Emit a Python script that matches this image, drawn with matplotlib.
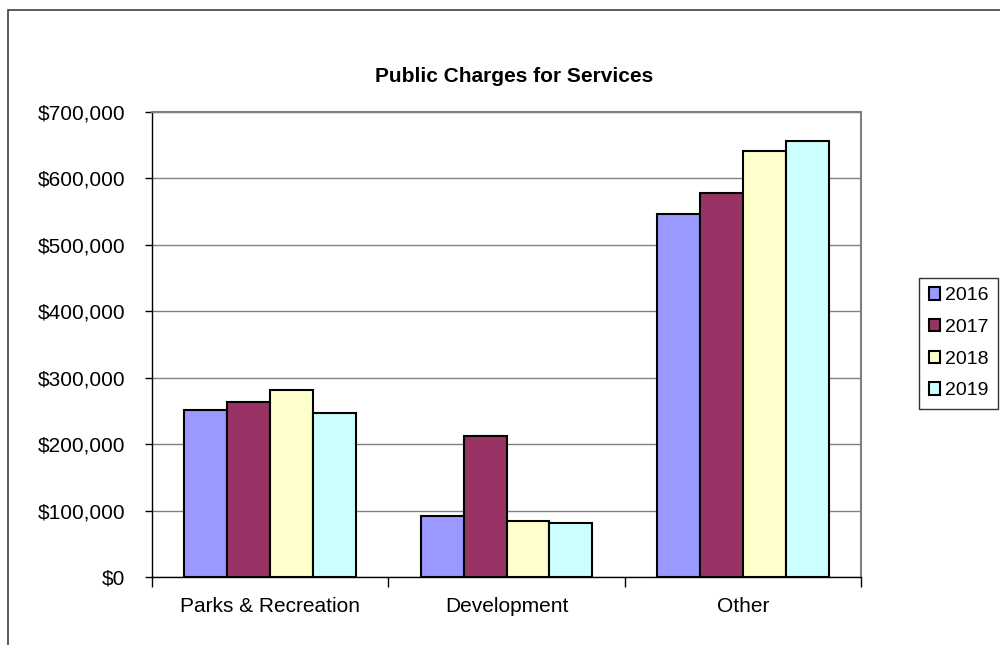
import matplotlib
matplotlib.use("Agg")
import matplotlib.pyplot as plt
import numpy as np
from matplotlib.patches import Rectangle
from matplotlib.ticker import FuncFormatter, MultipleLocator

plt.rcParams['font.family'] = ['Liberation Sans', 'DejaVu Sans']

categories = ["Parks & Recreation", "Development", "Other"]
years = ["2016", "2017", "2018", "2019"]
values = {
    "2016": [251000, 92000, 547000],
    "2017": [263500, 213000, 578000],
    "2018": [282500, 84000, 641500],
    "2019": [247500, 81000, 656500],
}
colors = ["#9999FF", "#993366", "#FFFFCC", "#CCFFFF"]

fig = plt.figure(figsize=(10, 6.45), dpi=100)
fig.patch.set_facecolor("white")

# outer chart border (runs off the right and bottom edges)
fig.add_artist(Rectangle((8 / 1000, -0.05), 1.2, 1 - 9.7 / 645 + 0.05,
                         transform=fig.transFigure, fill=False,
                         edgecolor="#404040", linewidth=1.2))

ax = fig.add_axes([0.152, 1 - 577.3 / 645, 0.709, (577.3 - 112) / 645])

n = len(years)
bw = 1 / 5.5
x = np.arange(len(categories))
for i, (yr, col) in enumerate(zip(years, colors)):
    offs = (i - (n - 1) / 2) * bw
    ax.bar(x + 0.5 + offs, values[yr], width=bw, color=col,
           edgecolor="black", linewidth=1.5, label=yr, zorder=3)

ax.set_xlim(0, len(categories))
ax.set_ylim(0, 700000)
ax.yaxis.set_major_locator(MultipleLocator(100000))
ax.yaxis.set_major_formatter(FuncFormatter(lambda v, p: f"${v:,.0f}"))
ax.grid(axis="y", color="#808080", linewidth=1.0, zorder=0)

ax.set_xticks(np.arange(len(categories) + 1))
ax.set_xticklabels([])
ax.set_xticks(x + 0.5, minor=True)
ax.set_xticklabels(categories, minor=True)
ax.tick_params(axis="x", which="minor", length=0, pad=14, labelsize=15)
ax.tick_params(axis="x", which="major", length=7, width=1, color="black", direction="out")
ax.tick_params(axis="y", length=5, width=1, color="black", direction="out", pad=14,
               labelsize=15)

for side in ["top", "right"]:
    ax.spines[side].set_color("#808080")
    ax.spines[side].set_linewidth(1.5)
for side in ["left", "bottom"]:
    ax.spines[side].set_color("black")
    ax.spines[side].set_linewidth(1.0)

fig.text(0.514, 1 - 77 / 645, "Public Charges for Services", ha="center", va="center",
         fontsize=15, fontweight="bold")

leg = fig.legend(loc="upper left", bbox_to_anchor=(0.919, 1 - 277.7 / 645),
                 frameon=True, fancybox=False, edgecolor="black", fontsize=14,
                 handlelength=0.6, handleheight=0.6, handletextpad=0.25,
                 labelspacing=0.75, borderpad=0.5, borderaxespad=0)
leg.get_frame().set_linewidth(1.0)

fig.savefig("out.png", dpi=100, facecolor="white")
